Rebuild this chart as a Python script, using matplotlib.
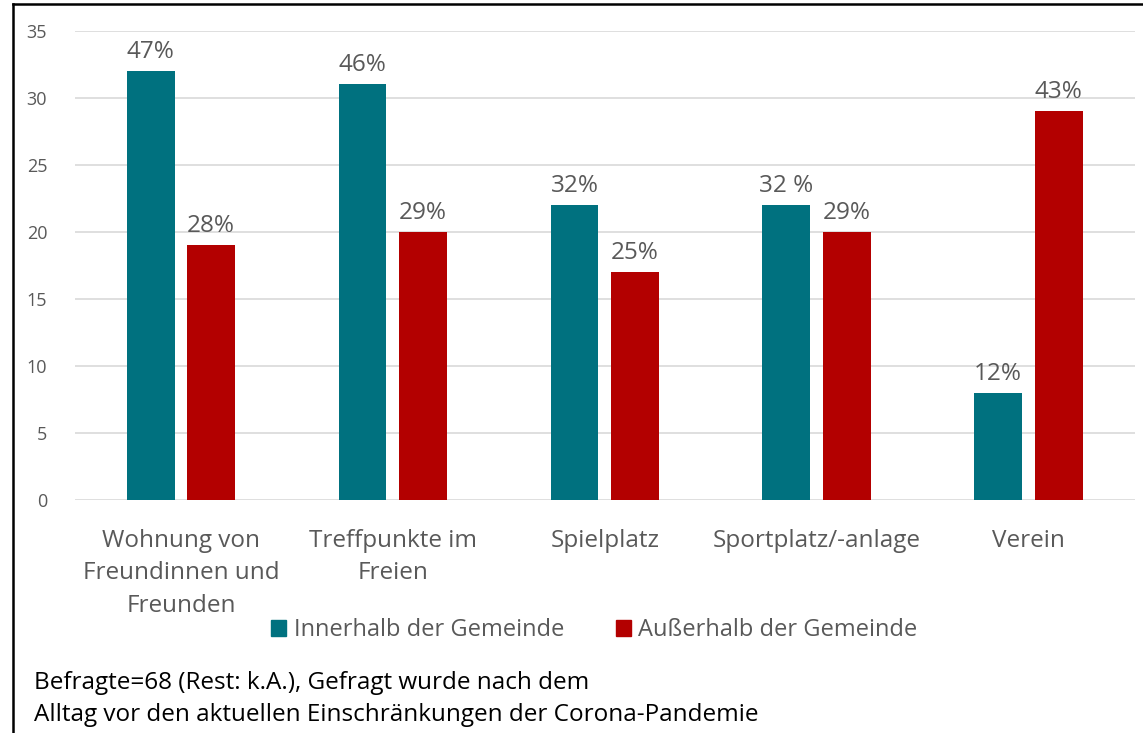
import numpy as np
import matplotlib.pyplot as plt
from matplotlib.lines import Line2D
from matplotlib.patches import Patch

# Daten
kategorien = ["Wohnung von\nFreundinnen und\nFreunden", "Treffpunkte im\nFreien",
              "Spielplatz", "Sportplatz/-anlage", "Verein"]
innerhalb = [32, 31, 22, 22, 8]
ausserhalb = [19, 20, 17, 20, 29]
label_inner = ["47%", "46%", "32%", "32 %", "12%"]
label_outer = ["28%", "29%", "25%", "29%", "43%"]
serien = ["Innerhalb der Gemeinde", "Außerhalb der Gemeinde"]
y_ticks = [0, 5, 10, 15, 20, 25, 30, 35]

farbe_inner = "#00717f"
farbe_outer = "#b30000"
grau = "#595959"

plt.rcParams['font.family'] = ['Open Sans', 'DejaVu Sans']

fig = plt.figure(figsize=(11.43, 7.33), dpi=100)
ax = fig.add_axes([0.0656, 0.318, 0.927, 0.64])

x = np.arange(len(kategorien))
breite = 0.226
versatz = 0.143
b1 = ax.bar(x - versatz, innerhalb, breite, color=farbe_inner, zorder=3)
b2 = ax.bar(x + versatz, ausserhalb, breite, color=farbe_outer, zorder=3)

for balken, labels in ((b1, label_inner), (b2, label_outer)):
    for rect, txt in zip(balken, labels):
        ax.annotate(txt, (rect.get_x() + rect.get_width() / 2, rect.get_height()),
                    xytext=(0, 5), textcoords="offset points", ha="center", va="bottom",
                    fontsize=17.5, color=grau)

ax.set_xlim(-0.5, len(kategorien) - 0.5)
ax.set_ylim(0, 35)
ax.set_yticks(y_ticks)
ax.yaxis.grid(True, color="#d9d9d9", lw=1.2, zorder=0)
ax.set_axisbelow(True)
for s in ax.spines.values():
    s.set_visible(False)
ax.tick_params(axis="y", length=0, labelsize=13, labelcolor=grau, pad=20)
ax.tick_params(axis="x", length=0, labelsize=17.5, labelcolor=grau, pad=21)
ax.set_xticks(x)
ax.set_xticklabels(kategorien, linespacing=1.46, va="top")

handles = [Patch(color=farbe_inner), Patch(color=farbe_outer)]
fig.legend(handles, serien, loc="center", bbox_to_anchor=(0.52, 0.14), ncol=2,
           frameon=False, fontsize=17, labelcolor=grau, handlelength=0.65,
           handleheight=0.65, handletextpad=0.3, columnspacing=2.2)

fig.text(0.03, 0.068, "Befragte=68 (Rest: k.A.), Gefragt wurde nach dem", fontsize=17.5,
         color="black", va="center")
fig.text(0.03, 0.025, "Alltag vor den aktuellen Einschränkungen der Corona-Pandemie",
         fontsize=17.5, color="black", va="center")

# Rahmen links und oben
fig.add_artist(Line2D([0.0118, 0.0118], [0, 0.995], transform=fig.transFigure, color="black", lw=1.8))
fig.add_artist(Line2D([0.0118, 1.0], [0.995, 0.995], transform=fig.transFigure, color="black", lw=1.8))

fig.savefig("out.png", dpi=100)
